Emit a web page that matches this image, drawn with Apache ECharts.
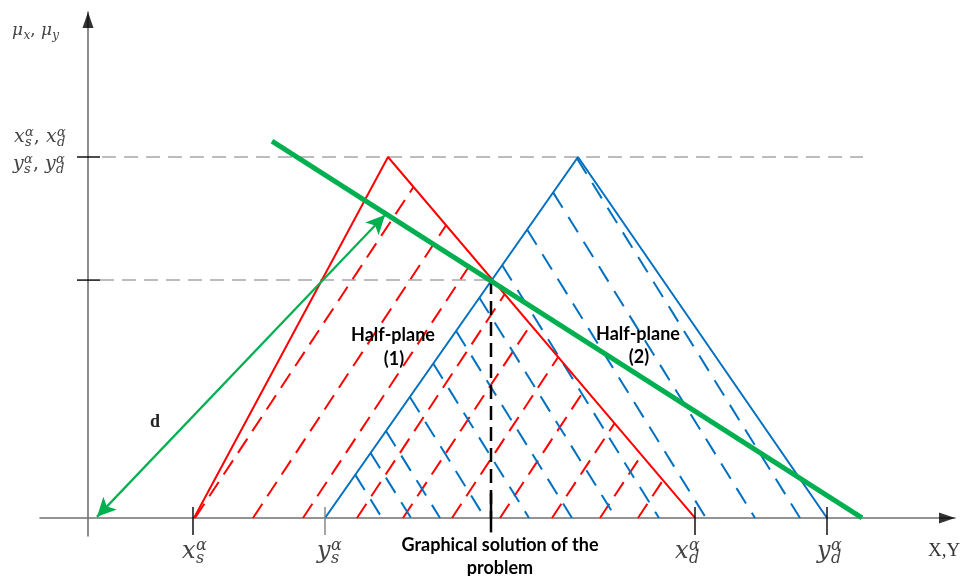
<!DOCTYPE html>
<html><head><meta charset="utf-8">
<script src="https://cdn.jsdelivr.net/npm/echarts/dist/echarts.min.js"></script>
<style>html,body{margin:0;padding:0;background:#fff}#c{width:966px;height:576px}</style>
</head><body><div id="c"></div>
<script>
// ---------- data: x = horizontal units from the μ axis, y = membership μ ----------
const redTriangle  = [[106,0],[300,1],[607,0]];
const blueTriangle = [[237,0],[490,1],[739,0]];
const peakLevel  = 1;
const alphaLevel = 0.659;
const solutionX  = 403;
const peakGuide  = [[14,1],[775,1]];
const alphaGuide = [[12,0.659],[403,0.659]];
const redHatch = [
  [[107,0],[325.5,0.917]], [[165,0],[358.1,0.811]], [[215,0],[386.3,0.719]],
  [[269,0],[416.7,0.620]], [[315,0],[442.6,0.535]], [[364,0],[470.2,0.446]],
  [[412,0],[497.2,0.358]], [[464,0],[526.5,0.262]], [[512,0],[553.5,0.174]],
  [[550,0],[574.9,0.104]]
];
const blueHatch = [
  [[489.0,0.996],[712,0]], [[465.1,0.902],[667,0]], [[439.1,0.799],[618,0]],
  [[414.2,0.700],[571,0]], [[391.4,0.610],[528,0]], [[368.1,0.518],[484,0]],
  [[345.2,0.428],[441,0]], [[321.9,0.335],[397,0]], [[298.0,0.241],[352,0]],
  [[282.6,0.180],[323,0]], [[267.2,0.120],[294,0]]
];
const greenLine     = [[184,1.044],[774,0]];
const distanceArrow = [[297,0.839],[9,0.003]];
const xTicks      = [105,237,607,739];
const xTickColors = ['#000','#808080','#000','#000'];
const yTicks      = [1,0.659];

// ---------- chart ----------
const chart = echarts.init(document.getElementById('c'), null, {renderer:'canvas'});
const series = [];
function addLine(points, color, width, dash, z){
  series.push({type:'line', data:points, symbol:'none', silent:true, animation:false, z:z, clip:false,
    lineStyle:{color:color, width:width, type:dash||'solid', cap:'butt'}});
}
addLine(peakGuide,'#a6a6a6',1.5,[14,8],1);
addLine(alphaGuide,'#a6a6a6',1.5,[14,8],1);
redHatch.forEach(s=>addLine(s,'#ff0000',2,[17,9],2));
blueHatch.forEach(s=>addLine(s,'#0070c0',2,[18,11],2));
addLine(redTriangle,'#ff0000',2,null,3);
addLine(blueTriangle,'#0070c0',2,null,3);
addLine([[solutionX,alphaLevel],[solutionX,0]],'#000',2.5,[14,7],4);
addLine(greenLine,'#00b050',5,null,5);
xTicks.forEach((t,i)=>addLine([[t,0.03],[t,-0.047]],xTickColors[i],1.4,null,6));
addLine([[solutionX,0.07],[solutionX,-0.04]],'#000',2.5,null,6);
yTicks.forEach(t=>addLine([[-11,t],[12,t]],'#000',1.4,null,6));
series.push({type:'line', data:[], silent:true, animation:false, z:5,
  markLine:{silent:true, animation:false, symbol:['arrow','arrow'], symbolSize:[14,19],
    label:{show:false}, lineStyle:{color:'#00b050', width:2.2, type:'solid'},
    data:[[{coord:distanceArrow[0]},{coord:distanceArrow[1]}]]}});
series.push({type:'scatter', data:[[859,0]], symbol:'triangle', symbolSize:[11,16], symbolRotate:-90,
  itemStyle:{color:'#000'}, silent:true, animation:false, z:7});
series.push({type:'scatter', data:[[0,1.3795]], symbol:'triangle', symbolSize:[11,16],
  itemStyle:{color:'#000'}, silent:true, animation:false, z:7});

// ---------- text ----------
const ctx = document.createElement('canvas').getContext('2d');
function txt(x,y,t,font,fill,align){
  return {type:'text', x:x, y:y, silent:true, z:10,
    style:{text:t, font:font, fill:fill||'#333', textAlign:align||'left', align:align||'left',
      textVerticalAlign:'middle', verticalAlign:'middle'}};
}
const MF = '"DejaVu Serif"';
function math(x0, yMid, parts, size){
  const els=[]; let x=x0;
  const bf='italic '+size+'px '+MF, sc=Math.round(size*0.68), sf='italic '+sc+'px '+MF;
  parts.forEach(p=>{
    if(typeof p==='string'){ const f=size+'px '+MF; ctx.font=f; els.push(txt(x,yMid,p,f,'#444')); x+=ctx.measureText(p).width; return; }
    ctx.font=bf; els.push(txt(x,yMid,p.b,bf,'#444')); x+=ctx.measureText(p.b).width+size*0.02;
    ctx.font=sf; let w=0;
    if(p.sup){ els.push(txt(x,yMid-size*0.25,p.sup,sf,'#444')); w=Math.max(w,ctx.measureText(p.sup).width); }
    if(p.sub){ els.push(txt(x,yMid+size*0.27,p.sub,sf,'#444')); w=Math.max(w,ctx.measureText(p.sub).width); }
    x+=w;
  });
  return els;
}
let g=[];
g=g.concat(math(12,31,[{b:'μ',sub:'x'},', ',{b:'μ',sub:'y'}],17));
g=g.concat(math(14,137,[{b:'x',sup:'α',sub:'s'},', ',{b:'x',sup:'α',sub:'d'}],19));
g=g.concat(math(13,164,[{b:'y',sup:'α',sub:'s'},', ',{b:'y',sup:'α',sub:'d'}],19));
g=g.concat(math(182,552,[{b:'x',sup:'α',sub:'s'}],24));
g=g.concat(math(317,552,[{b:'y',sup:'α',sub:'s'}],24));
g=g.concat(math(675,552,[{b:'x',sup:'α',sub:'d'}],24));
g=g.concat(math(817,552,[{b:'y',sup:'α',sub:'d'}],24));
g.push(txt(928,551,'X,Y','19px "Liberation Serif"','#333'));
g.push(txt(150,422,'d','bold 18px "Liberation Serif"','#222'));
const BF='bold 18px Lato';
g.push(txt(393,335,'Half-plane',BF,'#000','center'));
g.push(txt(394,359,'(1)',BF,'#000','center'));
g.push(txt(638,334,'Half-plane',BF,'#000','center'));
g.push(txt(639,357,'(2)',BF,'#000','center'));
g.push(txt(500,545,'Graphical solution of the',BF,'#000','center'));
g.push(txt(500,568,'problem',BF,'#000','center'));

chart.setOption({
  animation:false,
  grid:{left:40,right:11,top:12,bottom:40,containLabel:false},
  xAxis:{type:'value',min:-48,max:867,axisLine:{show:true,onZero:true,lineStyle:{color:'#707070',width:1.6}},
    axisTick:{show:false},axisLabel:{show:false},splitLine:{show:false}},
  yAxis:{type:'value',min:-0.05,max:1.4017,axisLine:{show:true,onZero:true,lineStyle:{color:'#707070',width:1.6}},
    axisTick:{show:false},axisLabel:{show:false},splitLine:{show:false}},
  series:series,
  graphic:{elements:g}
});
</script></body></html>
